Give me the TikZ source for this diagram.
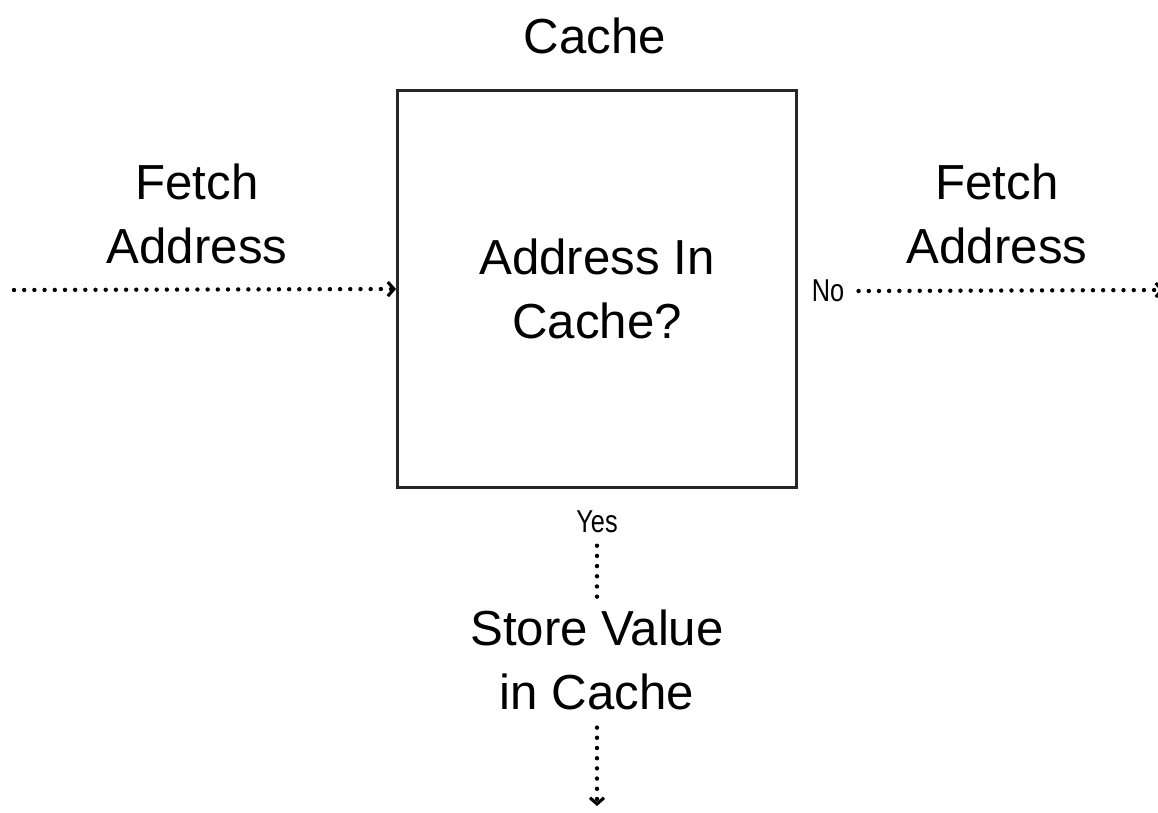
\documentclass[tikz,border=0pt]{standalone}
\usepackage{fontspec}
\setmainfont{Liberation Sans}
\newfontfamily\narrowfont[FakeStretch=0.8]{Liberation Sans}
\usepackage{tikz}
\usetikzlibrary{arrows.meta, positioning}

\begin{document}
\begin{tikzpicture}[
        x=0.02cm, y=-0.02cm,
        label/.style={align=center, font=\fontsize{28}{36}\selectfont, inner sep=0pt},
        answer/.style={font=\narrowfont\fontsize{18}{20}\selectfont, inner sep=0pt},
        cachebox/.style={rectangle, draw=black!85, line width=1.7pt, minimum width=7.98cm, minimum height=7.96cm, inner sep=0pt},
        arrow/.style={-{Straight Barb[length=3.5pt, width=8pt, line width=1.8pt]}, line width=2.5pt, line cap=round, dash pattern=on 0pt off 5.8pt},
    ]
        \useasboundingbox (0,0) rectangle (1158,812);

        % Cache box
        \node[cachebox] (cache) at (597,289) {};
        \node[label] (check) at (cache.center) {Address In\\Cache?};
        \node[label] (title) at (595,36) {Cache};

        % Incoming fetch
        \node[label] (fetchin) at (197,214) {Fetch\\Address};
        \coordinate (start) at (14,290);

        % Miss
        \node[answer] (no) at (828,291) {No};
        \node[label] (fetchout) at (997,214) {Fetch\\Address};
        \coordinate (out) at (1164,290);

        % Hit
        \node[answer] (yes) at (597,522) {Yes};
        \node[label] (store) at (597,660) {Store Value\\in Cache};
        \coordinate (done) at (597,806);

        % Arrows
        \draw[arrow] (start) -- (cache.west);
        \draw[arrow] ([xshift=8pt]no.east) -- (out);
        \draw[arrow, -] ([yshift=-7pt]yes.south) -- ([yshift=6pt]store.north);
        \draw[arrow] ([yshift=-10pt]store.south) -- (done);
    \end{tikzpicture}
\end{document}
